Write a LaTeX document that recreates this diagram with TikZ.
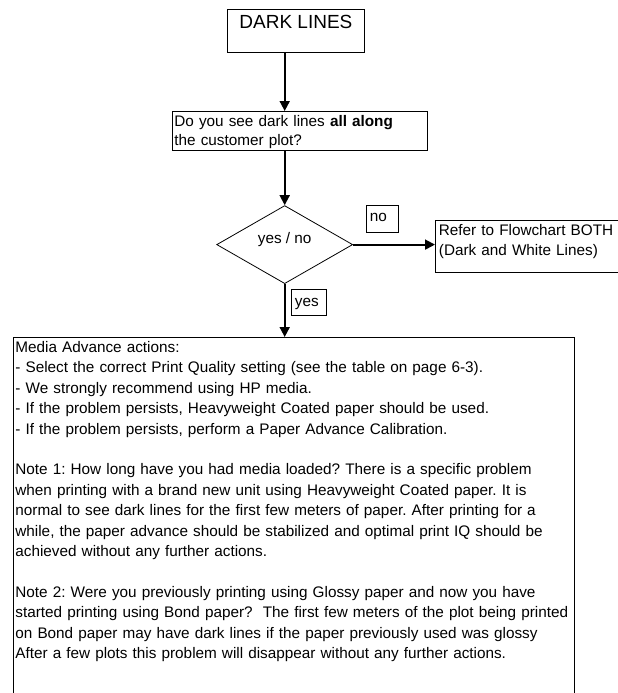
\documentclass[tikz,border=0pt]{standalone}
\usepackage{fontspec}
\setmainfont{Liberation Sans}
\usepackage{tikz}
\usetikzlibrary{arrows.meta, shapes.geometric, positioning}

\tikzset{
  box/.style={draw, line width=0.8pt, anchor=north west, inner sep=2pt, align=left,
    font=\fontsize{15.3}{19}\selectfont},
  tag/.style={draw, line width=0.8pt, anchor=north west, inner xsep=3.5pt, inner ysep=2pt,
    align=left, font=\fontsize{15.3}{18}\selectfont},
  arr/.style={line width=1.8pt, -{Triangle[width=10pt,length=10pt]}}
}

\begin{document}
\frenchspacing
\begin{tikzpicture}[x=1pt, y=-1pt]
      \useasboundingbox (0,0) rectangle (618,693);
      \clip (0,0) rectangle (618,693);

      % start box, caption sits on top
      \node[box, align=center, minimum width=137pt, font=\fontsize{19}{21}\selectfont,
        text height=17pt, text depth=22pt] (title) at (227,9) {DARK LINES};

      % question and decision
      \node[box, text width=251pt, text height=13.5pt, text depth=21.5pt] (question) at (172,111)
        {Do you see dark lines \textbf{all along}\\the customer plot?};
      \node[draw, diamond, line width=0.8pt, minimum width=136pt, minimum height=70.5pt,
        inner sep=0pt, font=\fontsize{15.3}{18}\selectfont, text height=11pt, text depth=13.5pt]
        (dec) at (284.7,244.6) {yes / no};

      % "no" branch
      \node[box, inner xsep=3.5pt, text width=200pt, text height=13.3pt, text depth=34.7pt,
        font=\fontsize{15.3}{19.5}\selectfont] (refer) at (435,220)
        {Refer to Flowchart BOTH\\(Dark and White Lines)};
      \node[tag, text width=25pt, text height=13.7pt, text depth=9.3pt] (no) at (366,205) {no};

      % "yes" branch
      \node[tag, text width=28pt, text height=14.7pt, text depth=7pt] (yes) at (291,289.3) {yes};
      \node[box, text width=557pt, text height=13pt, text depth=400pt,
        font=\fontsize{15.3}{20.4}\selectfont] (media) at (13,337)
        {Media Advance actions:\\
         - Select the correct Print Quality setting (see the table on page 6-3).\\
         - We strongly recommend using HP media.\\
         - If the problem persists, Heavyweight Coated paper should be used.\\
         - If the problem persists, perform a Paper Advance Calibration.\\[20.4pt]
         Note 1: How long have you had media loaded? There is a specific problem\\
         when printing with a brand new unit using Heavyweight Coated paper. It is\\
         normal to see dark lines for the first few meters of paper. After printing for a\\
         while, the paper advance should be stabilized and optimal print IQ should be\\
         achieved without any further actions.\\[20.4pt]
         Note 2: Were you previously printing using Glossy paper and now you have\\
         started printing using Bond paper?\ \ The first few meters of the plot being printed\\
         on Bond paper may have dark lines if the paper previously used was glossy\\
         After a few plots this problem will disappear without any further actions.};

      % connectors
      \draw[arr] (title.south -| dec.north) -- (question.north -| dec.north);
      \draw[arr] (question.south -| dec.north) -- (dec.north);
      \draw[arr] (dec.east) -- (dec.east -| refer.west);
      \draw[arr] (dec.south) -- (dec.south |- media.north);

    \end{tikzpicture}
\end{document}
